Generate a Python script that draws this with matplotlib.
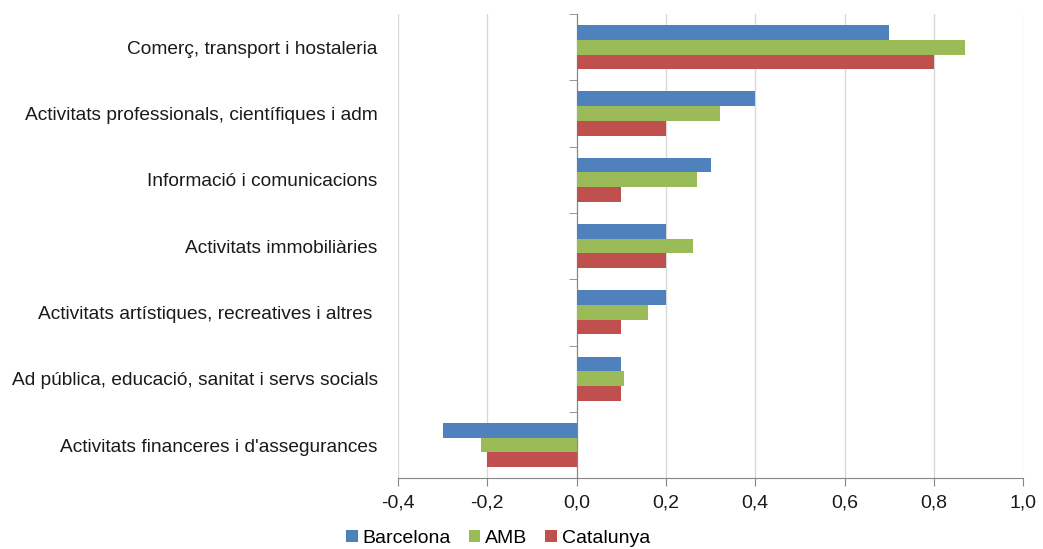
import numpy as np
import matplotlib
matplotlib.use('Agg')
import matplotlib.pyplot as plt

plt.rcParams['font.family'] = ['Liberation Sans', 'DejaVu Sans']

categories = ['Comerç, transport i hostaleria',
              'Activitats professionals, científiques i adm',
              'Informació i comunicacions',
              'Activitats immobiliàries',
              'Activitats artístiques, recreatives i altres ',
              'Ad pública, educació, sanitat i servs socials',
              "Activitats financeres i d'assegurances"]
barcelona = [0.70, 0.40, 0.30, 0.20, 0.20, 0.10, -0.30]
amb = [0.87, 0.32, 0.27, 0.26, 0.16, 0.105, -0.215]
catalunya = [0.80, 0.20, 0.10, 0.20, 0.10, 0.10, -0.20]
x_ticks = [-0.4, -0.2, 0.0, 0.2, 0.4, 0.6, 0.8, 1.0]
x_labels = ['-0,4', '-0,2', '0,0', '0,2', '0,4', '0,6', '0,8', '1,0']

fig = plt.figure(figsize=(10.43, 5.49), dpi=100)
ax = fig.add_axes([0.3816, 0.129, 0.981 - 0.3816, 0.9745 - 0.129])

y = np.arange(len(categories))
h = 0.222
ax.barh(y - h, barcelona, height=h, color='#4F81BD', label='Barcelona', zorder=3)
ax.barh(y, amb, height=h, color='#9BBB59', label='AMB', zorder=3)
ax.barh(y + h, catalunya, height=h, color='#C0504D', label='Catalunya', zorder=3)

ax.set_xlim(-0.4, 1.0)
ax.set_ylim(len(categories) - 0.5, -0.5)
ax.set_xticks(x_ticks)
ax.set_xticklabels(x_labels)
ax.set_yticks(y)
ax.set_yticklabels(categories)
ax.set_yticks(np.arange(len(categories) + 1) - 0.5, minor=True)

ax.grid(axis='x', color='#d9d9d9', linewidth=1, zorder=0)
for s in ['top', 'left']:
    ax.spines[s].set_visible(False)
ax.spines['right'].set_position(('data', 0))
ax.spines['right'].set_color('#868686')
ax.spines['bottom'].set_color('#868686')
ax.tick_params(axis='y', which='major', length=0, pad=14.5, left=False, right=False,
               labelsize=13.8, labelcolor='#1a1a1a')
ax.tick_params(axis='y', which='minor', left=False, right=True, direction='in',
               length=6, color='#868686', labelright=False)
ax.tick_params(axis='x', length=6, color='#868686', pad=6, labelsize=14,
               labelcolor='#1a1a1a')

ax.legend(loc='center', bbox_to_anchor=(0.16, -0.13), ncol=3, frameon=False,
          fontsize=14, handlelength=0.6, handleheight=0.6, handletextpad=0.25,
          columnspacing=0.9, borderpad=0)

fig.savefig('out.png', dpi=100)
